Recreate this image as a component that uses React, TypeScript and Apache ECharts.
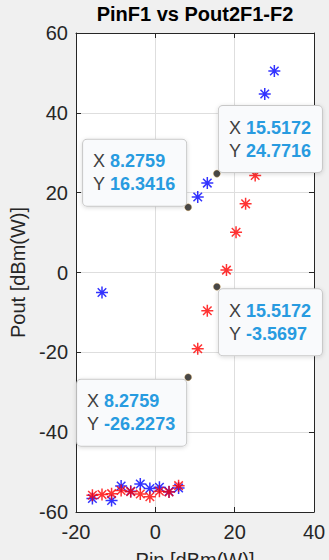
import React, { useEffect, useRef } from "react";
import * as echarts from "echarts";

// Pin [dBm(W)] values of the plotted points
const pinValues = [
  -15.8621, -13.4483, -11.0345, -8.6207, -6.2069, -3.7931, -1.3793, 1.0345, 3.4483, 5.8621,
  8.2759, 10.6897, 13.1034, 15.5172, 17.931, 20.3448, 22.7586, 25.1724, 27.5862, 30.0,
];
// blue series (Pout)
const poutBlue = [
  -56.6, -5.0, -57.1, -53.5, -54.8, -53.0, -54.1, -53.8, -54.9, -54.0,
  16.3416, 18.9, 22.4, 24.7716, 28.5, 32.5, 36.5, 39.5, 44.7, 50.5,
];
// red series (Pout 2F1-F2)
const poutRed = [
  -55.8, -55.6, -55.4, -54.6, -54.9, -55.5, -56.2, -54.8, -55.0, -53.4,
  -26.2273, -19.1, -9.6, -3.5697, 0.6, 10.1, 17.2, 24.3, 31.0, 37.0,
];
// data tips: x, y, placement
const tipX = [8.2759, 15.5172, 15.5172, 8.2759];
const tipY = [16.3416, 24.7716, -3.5697, -26.2273];
const tipPlace = ["ul", "ur", "dr", "dl"];

const xTicks = { min: -20, max: 40, interval: 20 };
const yTicks = { min: -60, max: 60, interval: 20 };

const FONT = "'Liberation Sans', Arial, Helvetica, sans-serif";
const TXT = "#262626";
const ASTERISK = "path://M0,-10L0,10M-10,0L10,0M-7.1,-7.1L7.1,7.1M-7.1,7.1L7.1,-7.1";

const isTip = (x: number, y: number) =>
  tipX.some((tx, i) => Math.abs(tx - x) < 1e-3 && Math.abs(tipY[i] - y) < 1e-3);

function seriesData(ys: number[]) {
  return pinValues.map((x, i) =>
    isTip(x, ys[i]) ? { value: [x, ys[i]], symbol: "none" } : { value: [x, ys[i]] }
  );
}

function measure(text: string, weight: string) {
  const c = document.createElement("canvas").getContext("2d");
  if (!c) return text.length * 10;
  c.font = `${weight} 18px ${FONT}`;
  return c.measureText(text).width;
}

export default function App() {
  const ref = useRef<HTMLDivElement>(null);
  useEffect(() => {
    if (!ref.current) return;
    const chart = echarts.init(ref.current, null, { renderer: "svg" });
    const axisCommon = {
      type: "value" as const,
      axisLine: { show: true, onZero: false, lineStyle: { color: TXT, width: 1 } },
      axisTick: { show: true, inside: true, length: 5, lineStyle: { color: TXT } },
    };
    chart.setOption({
      animation: false,
      backgroundColor: "#f0f0f0",
      textStyle: { fontFamily: FONT },
      title: {
        text: "PinF1 vs Pout2F1-F2",
        left: 195,
        top: 4,
        padding: 0,
        textAlign: "center",
        textStyle: { fontSize: 20, fontWeight: "bold", color: "#000", fontFamily: FONT },
      },
      grid: {
        left: 76,
        right: 15,
        top: 33,
        bottom: 48,
        show: true,
        backgroundColor: "#ffffff",
        borderWidth: 0,
        outerBoundsMode: "none",
        containLabel: false,
      },
      xAxis: [
        {
          ...axisCommon,
          ...xTicks,
          position: "bottom",
          name: "Pin [dBm(W)]",
          nameLocation: "middle",
          nameGap: 38,
          nameTextStyle: { fontSize: 20, color: TXT, fontFamily: FONT },
          axisLabel: { fontSize: 20, color: TXT, margin: 10, fontFamily: FONT },
          splitLine: { show: true, lineStyle: { color: "#dedede", width: 1 } },
        },
        {
          ...axisCommon,
          ...xTicks,
          position: "top",
          axisLabel: { show: false },
          splitLine: { show: false },
        },
      ],
      yAxis: [
        {
          ...axisCommon,
          ...yTicks,
          position: "left",
          name: "Pout [dBm(W)]",
          nameLocation: "middle",
          nameGap: 43,
          nameTextStyle: { fontSize: 20, color: TXT, fontFamily: FONT },
          axisLabel: { fontSize: 20, color: TXT, margin: 8, fontFamily: FONT },
          splitLine: { show: true, lineStyle: { color: "#dedede", width: 1 } },
        },
        {
          ...axisCommon,
          ...yTicks,
          position: "right",
          axisLabel: { show: false },
          splitLine: { show: false },
        },
      ],
      series: [
        {
          type: "scatter",
          name: "Pout",
          data: seriesData(poutBlue),
          symbol: ASTERISK,
          symbolSize: 12,
          itemStyle: { color: "#0000ff", borderColor: "#0000ff", borderWidth: 1.5 },
          z: 3,
        },
        {
          type: "scatter",
          name: "Pout2F1-F2",
          data: seriesData(poutRed),
          symbol: ASTERISK,
          symbolSize: 12,
          itemStyle: { color: "#ff0000", borderColor: "#ff0000", borderWidth: 1.5 },
          z: 4,
        },
        {
          type: "scatter",
          name: "tips",
          data: tipX.map((x, i) => [x, tipY[i]]),
          symbol: "circle",
          symbolSize: 7,
          itemStyle: {
            color: "#1a1a1a",
            borderColor: "rgba(220,160,70,0.45)",
            borderWidth: 1,
          },
          z: 5,
        },
      ],
    });

    const padL = 10;
    const padR = 11;
    const graphics = tipX.map((x, i) => {
      const [px, py] = chart.convertToPixel({ gridIndex: 0 }, [x, tipY[i]]) as number[];
      const place = tipPlace[i];
      const right = place === "ur" || place === "dr";
      const up = place === "ul" || place === "ur";
      const xs = String(x);
      const ys = String(tipY[i]);
      const lw = measure("X ", "normal");
      const w =
        Math.max(lw + measure(xs, "bold"), measure("Y ", "normal") + measure(ys, "bold")) +
        padL +
        padR;
      const gx = right ? px + 2 : px - 2 - w;
      const gy = up ? py - 1.5 : py + 2.5;
      return {
        type: "text",
        x: gx,
        y: gy,
        z: 100,
        style: {
          text: `{l|X} {v|${xs}}\n{l|Y} {v|${ys}}`,
          align: "left",
          verticalAlign: up ? "bottom" : "top",
          backgroundColor: "#f9fafc",
          borderColor: "#c8c8c8",
          borderWidth: 1,
          borderRadius: 4,
          padding: [10, padR, 10, padL],
          width: w - padL - padR,
          shadowBlur: 4,
          shadowOffsetY: 1,
          shadowColor: "rgba(0,0,0,0.15)",
          fill: "#404040",
          font: `normal 18px ${FONT}`,
          rich: {
            l: { fontSize: 18, fill: "#404040", fontFamily: FONT, lineHeight: 23 },
            v: {
              fontSize: 18,
              fill: "#289be0",
              fontWeight: "bold",
              fontFamily: FONT,
              lineHeight: 23,
            },
          },
        },
      };
    });
    chart.setOption({ graphic: graphics });

    return () => chart.dispose();
  }, []);

  return (
    <div
      ref={ref}
      style={{ position: "absolute", left: 0, top: 0, width: 329, height: 560 }}
    />
  );
}
